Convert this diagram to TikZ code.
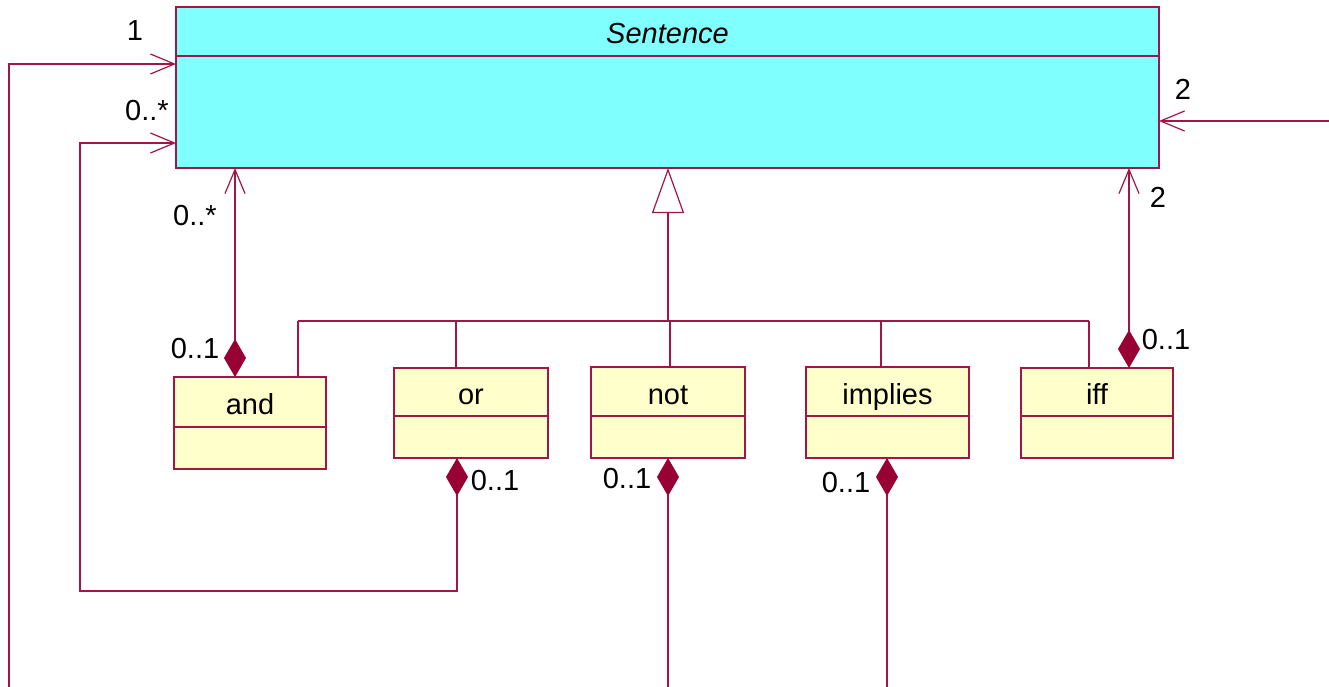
\documentclass[tikz,border=0pt]{standalone}
\usepackage{fontspec}
\setmainfont{Liberation Sans}
\usetikzlibrary{arrows.meta,positioning}

\definecolor{umlline}{RGB}{165,20,70}
\definecolor{umldia}{RGB}{153,0,51}
\definecolor{umlcyan}{RGB}{128,255,255}
\definecolor{umlyellow}{RGB}{255,255,204}

\begin{document}
\begin{tikzpicture}[x=1pt, y=-1pt,
    cls/.style={draw=umlline, fill=umlyellow, line width=1.2pt, inner sep=0pt, outer sep=0pt, font=\fontsize{29}{33}\selectfont, text height=25pt, text depth=0pt},
    abst/.style={cls, fill=umlcyan, font=\fontsize{29}{33}\selectfont\itshape},
    mult/.style={font=\fontsize{29}{33}\selectfont, inner sep=0pt},
    conn/.style={draw=umlline, line width=1.2pt},
    nav/.style={conn, -{Straight Barb[length=24pt, width=20pt]}},
    comp/.style={conn, {Diamond[length=38pt, width=22pt, color=umldia]}-{Straight Barb[length=24pt, width=20pt]}},
    part/.style={conn, {Diamond[length=38pt, width=22pt, color=umldia]}-},
    gen/.style={conn, -{Triangle[open, length=45pt, width=32pt, fill=white]}}
]
\useasboundingbox (0,0) rectangle (1329,687);

% abstract class
\node[abst, minimum width=983pt, minimum height=49pt] (sentence) at (667.5,31.5) {Sentence};
\node[abst, minimum width=983pt, minimum height=112pt, below=0pt of sentence] (sentenceBody) {};

% connective classes
\node[cls, minimum width=152pt, minimum height=50pt] (and) at (250,402) {and};
\node[cls, minimum width=152pt, minimum height=42pt, below=0pt of and] (and-b) {};
\node[cls, minimum width=154pt, minimum height=48pt] (or) at (471,392) {or};
\node[cls, minimum width=154pt, minimum height=42pt, below=0pt of or] (or-b) {};
\node[cls, minimum width=154pt, minimum height=49pt] (not) at (668,391.5) {not};
\node[cls, minimum width=154pt, minimum height=42pt, below=0pt of not] (not-b) {};
\node[cls, minimum width=163pt, minimum height=49pt] (implies) at (887.5,391.5) {implies};
\node[cls, minimum width=163pt, minimum height=42pt, below=0pt of implies] (implies-b) {};
\node[cls, minimum width=152pt, minimum height=48pt] (iff) at (1097,392) {iff};
\node[cls, minimum width=152pt, minimum height=42pt, below=0pt of iff] (iff-b) {};

% generalization
\coordinate (bus) at (668,321);
\coordinate (busL) at (298,321);
\coordinate (busR) at (1089,321);
\draw[gen] (bus) -- (bus |- sentenceBody.south);
\draw[conn] (busL) -- (busR);
\foreach \c/\x in {and/298, or/456, not/670, implies/881, iff/1089}
    \draw[conn] (\x,0 |- bus) -- (\x,0 |- \c.north);

% associations
\coordinate (leftEnd) at (9,687);
\coordinate (rightEnd) at (1329,121);
\coordinate (notEnd) at (668,687);
\coordinate (impEnd) at (887,687);
\draw[nav] (leftEnd) |- (sentenceBody.west |- 0,64);
\draw[nav] (rightEnd) -- (sentenceBody.east |- rightEnd);
\draw[comp] (235,0 |- and.north) -- (235,0 |- sentenceBody.south);
\draw[comp] (1129,0 |- iff.north) -- (1129,0 |- sentenceBody.south);
\draw[comp] (457,0 |- or-b.south) |- (80,591) |- (sentenceBody.west |- 0,143);
\draw[part] (not-b.south -| notEnd) -- (notEnd);
\draw[part] (implies-b.south -| impEnd) -- (impEnd);

% multiplicities
\node[mult] (m1) at (135,31) {1};
\node[mult] (m2) at (147,111) {0..*};
\node[mult] (m3) at (1183,89) {2};
\node[mult] (m4) at (195,216) {0..*};
\node[mult] (m5) at (195,349) {0..1};
\node[mult] (m6) at (495,481) {0..1};
\node[mult] (m7) at (627,479) {0..1};
\node[mult] (m8) at (846,483) {0..1};
\node[mult] (m9) at (1158,197) {2};
\node[mult] (m10) at (1166,340) {0..1};
\end{tikzpicture}
\end{document}
